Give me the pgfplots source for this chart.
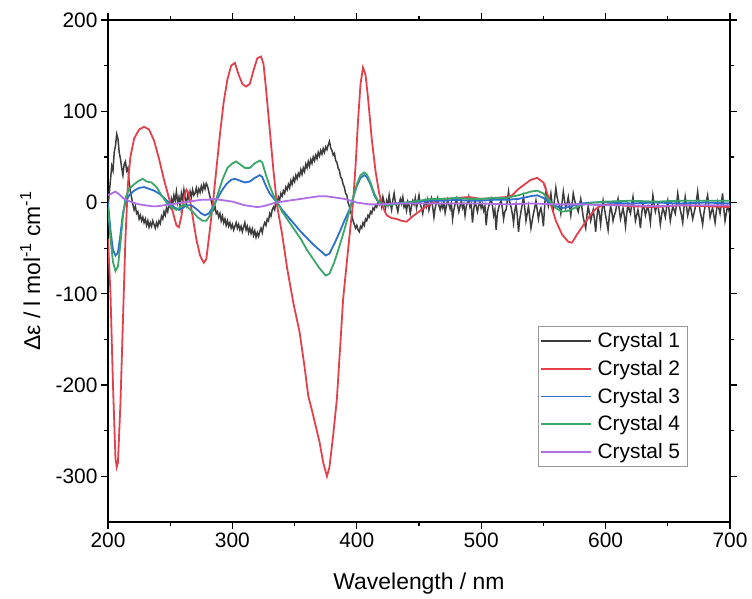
\documentclass[border=0pt]{standalone}
\usepackage{fontspec}
\setmainfont{Liberation Sans}
\usepackage{pgfplots}
\pgfplotsset{compat=1.18}
\definecolor{crysblack}{HTML}{3C3C3C}
\definecolor{crysred}{HTML}{E3404C}
\definecolor{crysblue}{HTML}{2D6FCF}
\definecolor{crysgreen}{HTML}{3AA768}
\definecolor{cryspurple}{HTML}{AE6FE6}
\pgfplotsset{
 s1/.style={color=crysblack, line width=1.5bp},
 s2/.style={color=crysred, line width=1.8bp},
 s3/.style={color=crysblue, line width=1.8bp},
 s4/.style={color=crysgreen, line width=1.8bp},
 s5/.style={color=cryspurple, line width=1.8bp},
}
\begin{document}
\begin{tikzpicture}
\begin{axis}[name=ax, width=622bp, height=502bp, scale only axis,
 xmin=200, xmax=700, ymin=-350, ymax=200,
 xtick={200,300,...,700}, ytick={-300,-200,...,200},
 minor x tick num=1, minor y tick num=1,
 tick align=outside, major tick length=7bp, minor tick length=4bp,
 axis line style={line width=1.2bp},
 every tick/.style={line width=1.2bp, black},
 ticklabel style={font=\fontsize{21}{25}\selectfont},
 /pgf/number format/assume math mode=true, /pgf/number format/1000 sep={},
 xlabel={Wavelength / nm},
 ylabel={Δε / l mol\textsuperscript{-1} cm\textsuperscript{-1}},
 label style={font=\fontsize{23}{27}\selectfont},
 xlabel style={at={(axis description cs:0.5,0)}, anchor=base, yshift=-68bp},
 ylabel style={at={(axis description cs:-0.103,0.5)}, anchor=south},
 legend image code/.code={\draw[#1, line width=1.8bp] (0bp,0bp) -- (50bp,0bp);},
 legend cell align=left,
 legend style={at={(0.9325,0.1096)}, anchor=south east, draw=gray!80, line width=0.8bp,
   font=\fontsize{21}{25}\selectfont,
   inner xsep=2bp, inner ysep=1bp, nodes={inner sep=5.5bp}},
]
\addplot[s1] coordinates {
(200,-5)(201,10)(202,25)(203,40)(204,35)(205,55)(206,62)(207,75)(208,70)(209,55)
(210,48)(211,38)(212,30)(213,42)(214,45)(215,35)(216,38)(217,22)(218,12)(219,5)
(220,-2)(221,-8)(222,-4)(223,-12)(224,-10)(225,-18)(226,-14)(227,-20)(228,-16)(229,-22)
(230,-18)(231,-25)(232,-20)(233,-27)(234,-22)(235,-26)(236,-20)(237,-24)(238,-28)(239,-22)
(240,-26)(241,-20)(242,-23)(243,-15)(244,-18)(245,-10)(246,-14)(247,-6)(248,-10)(249,-2)
(250,-5)(251,4)(252,-2)(253,8)(254,2)(255,12)(256,0)(257,6)(258,-4)(259,10)
(260,3)(261,14)(262,5)(263,-2)(264,8)(265,4)(266,12)(267,6)(268,14)(269,8)
(270,10)(271,16)(272,9)(273,15)(274,11)(275,18)(276,13)(277,20)(278,15)(279,21)
(280,18)(281,12)(282,6)(283,2)(284,-4)(285,-8)(286,-4)(287,-12)(288,-10)(289,-16)
(290,-12)(291,-20)(292,-15)(293,-22)(294,-18)(295,-25)(296,-20)(297,-26)(298,-22)(299,-28)
(300,-24)(301,-30)(302,-26)(303,-22)(304,-28)(305,-24)(306,-30)(307,-26)(308,-32)(309,-27)
(310,-22)(311,-30)(312,-26)(313,-33)(314,-28)(315,-34)(316,-29)(317,-36)(318,-31)(319,-38)
(320,-33)(321,-37)(322,-32)(323,-28)(324,-33)(325,-26)(326,-22)(327,-25)(328,-18)(329,-20)
(330,-12)(331,-15)(332,-8)(333,-5)(334,-8)(335,2)(336,-1)(337,6)(338,3)(339,10)
(340,7)(341,13)(342,10)(343,17)(344,14)(345,20)(346,16)(347,24)(348,20)(349,27)
(350,23)(351,30)(352,26)(353,32)(354,29)(355,36)(356,31)(357,38)(358,34)(359,42)
(360,38)(361,45)(362,40)(363,47)(364,43)(365,50)(366,46)(367,52)(368,48)(369,55)
(370,51)(371,57)(372,53)(373,59)(374,55)(375,61)(376,58)(377,63)(378,67)(379,60)
(380,57)(381,52)(382,54)(383,46)(384,44)(385,38)(386,35)(387,28)(388,26)(389,20)
(390,17)(391,10)(392,8)(393,0)(394,-4)(395,-10)(396,-14)(397,-20)(398,-24)(399,-28)
(400,-25)(401,-30)(402,-32)(403,-26)(404,-28)(405,-22)(406,-25)(407,-18)(408,-20)(409,-14)
(410,-16)(411,-10)(412,-12)(413,-6)(414,-8)(415,-3)(416,-5)(417,1)(418,-2)(419,4)
(420,-4)(421,6)(422,0)(423,-6)(424,2)(425,-3)(426,8)(427,-1)(428,-8)(429,3)
(430,10)(431,0)(432,-4)(433,-10)(434,-2)(435,4)(436,-1)(437,6)(438,-5)(439,-2)
(440,-9)(441,1)(442,-3)(443,-12)(444,-4)(445,2)(446,-2)(447,5)(448,-6)(449,1)
(450,8)(451,-2)(452,-6)(453,-12)(454,-3)(455,2)(456,-4)(457,3)(458,-8)(459,-2)
(460,4)(461,-5)(462,-16)(463,-6)(464,0)(465,5)(466,-3)(467,-8)(468,-2)(469,-6)
(470,1)(471,-11)(472,-4)(473,3)(474,-2)(475,-7)(476,-1)(477,-18)(478,-8)(479,-2)
(480,4)(481,-3)(482,-10)(483,-4)(484,2)(485,-6)(486,-2)(487,-14)(488,-4)(489,0)
(490,6)(491,-5)(492,-2)(493,-22)(494,-8)(495,2)(496,-4)(497,-10)(498,-3)(499,1)
(500,-6)(501,-2)(502,-9)(503,-4)(504,-25)(505,-10)(506,-4)(507,0)(508,4)(509,-3)
(510,-14)(511,-8)(512,-30)(513,-12)(514,-6)(515,-1)(516,2)(517,-6)(518,-18)(519,-10)
(520,-8)(521,2)(522,12)(523,0)(524,-5)(525,-12)(526,-22)(527,-9)(528,-2)(529,-14)
(530,-32)(531,-18)(532,-10)(533,-2)(534,6)(535,-6)(536,-20)(537,-12)(538,-4)(539,-16)
(540,-28)(541,-20)(542,-12)(543,-6)(544,2)(545,-8)(546,-18)(547,-10)(548,-6)(549,-14)
(550,-26)(551,-4)(552,14)(553,4)(554,-4)(555,2)(556,10)(557,-2)(558,-8)(559,4)
(560,16)(561,6)(562,0)(563,-4)(564,-12)(565,0)(566,12)(567,2)(568,-6)(569,-1)
(570,6)(571,-4)(572,-14)(573,-2)(574,10)(575,3)(576,-2)(577,-6)(578,-10)(579,-3)
(580,4)(581,-6)(582,-16)(583,-22)(584,-28)(585,-14)(586,-4)(587,-12)(588,-20)(589,-14)
(590,-8)(591,-18)(592,-32)(593,-16)(594,-6)(595,-12)(596,-24)(597,-10)(598,2)(599,-6)
(600,-14)(601,-22)(602,-30)(603,-14)(604,-4)(605,-10)(606,-20)(607,-14)(608,-10)(609,-2)
(610,4)(611,-8)(612,-18)(613,-12)(614,-6)(615,-14)(616,-26)(617,-12)(618,-2)(619,-8)
(620,-12)(621,-2)(622,6)(623,-8)(624,-20)(625,-14)(626,-8)(627,-16)(628,-28)(629,-12)
(630,-2)(631,-6)(632,-14)(633,-8)(634,-4)(635,-12)(636,-22)(637,-6)(638,8)(639,-2)
(640,-10)(641,-4)(642,-2)(643,-12)(644,-24)(645,-14)(646,-6)(647,-10)(648,-16)(649,-6)
(650,2)(651,-8)(652,-20)(653,-12)(654,-4)(655,-8)(656,-12)(657,-2)(658,10)(659,0)
(660,-8)(661,-14)(662,-22)(663,-6)(664,6)(665,-4)(666,-14)(667,-8)(668,-2)(669,-10)
(670,-18)(671,-12)(672,-6)(673,2)(674,12)(675,0)(676,-10)(677,-16)(678,-24)(679,-12)
(680,-4)(681,2)(682,8)(683,-4)(684,-16)(685,-10)(686,-6)(687,-14)(688,-22)(689,-10)
(690,0)(691,-6)(692,-12)(693,-2)(694,10)(695,-6)(696,-20)(697,-12)(698,-4)(699,-8)(700,-14)
};
\addlegendentry{Crystal 1}
\addplot[s2] coordinates {
(200,-40)(202,-100)(204,-200)(206,-280)(207,-290)(208,-285)(210,-220)(212,-130)(214,-40)
(216,20)(218,50)(221,70)(225,80)(229,83)(233,80)(237,68)(241,48)(245,25)(249,5)
(252,-10)(255,-25)(257,-27)(259,-15)(261,5)(263,14)(265,10)(268,-15)(271,-40)(274,-58)
(277,-66)(279,-62)(281,-40)(284,-5)(287,35)(290,75)(293,110)(296,135)(299,150)(302,153)
(305,140)(308,130)(311,127)(314,130)(317,145)(320,158)(323,160)(325,152)(327,125)(330,80)
(333,35)(336,-4)(340,-35)(344,-72)(349,-110)(354,-142)(358,-180)(361,-212)(364,-228)(367,-245)
(370,-262)(373,-285)(376,-300)(378,-290)(381,-255)(384,-215)(387,-150)(389,-106)(392,-65)
(395,-25)(397,0)(399,40)(401,90)(403,130)(405,148)(407,140)(409,115)(412,70)
(415,35)(418,10)(421,-5)(424,-14)(428,-17)(432,-18)(436,-20)(440,-21)(445,-15)(450,-10)
(455,-5)(460,-1)(465,2)(470,4)(480,5)(490,6)(500,4)(510,5)(520,6)(525,8)(530,15)
(535,20)(540,25)(545,27)(550,22)(553,10)(556,-2)(560,-20)(565,-35)(570,-43)(573,-44)
(577,-35)(582,-25)(587,-15)(592,-7)(597,-3)(605,-2)(620,-4)(640,-5)(660,-3)(680,-4)(700,-5)
};
\addlegendentry{Crystal 2}
\addplot[s3] coordinates {
(200,0)(202,-30)(204,-52)(206,-58)(208,-55)(210,-35)(212,-12)(214,0)(217,8)(221,13)
(225,16)(229,17)(233,15)(237,13)(241,10)(245,5)(249,0)(253,-5)(257,-8)(260,-6)
(263,-3)(267,-3)(271,-7)(275,-12)(278,-14)(281,-12)(284,-6)(287,2)(291,12)(295,20)
(299,25)(302,26)(306,24)(310,22)(314,23)(318,27)(322,30)(324,28)(327,18)(330,10)
(334,3)(337,-2)(340,-8)(345,-16)(350,-24)(355,-32)(360,-39)(365,-46)(370,-52)(375,-58)
(378,-56)(382,-45)(386,-33)(390,-20)(394,-8)(397,5)(400,18)(403,27)(406,30)(408,28)
(411,20)(414,8)(417,1)(420,-2)(425,-2)(430,-1)(440,0)(450,1)(460,2)(470,2)
(480,3)(490,2)(500,2)(510,3)(520,3)(530,4)(540,7)(545,8)(550,5)(555,0)
(560,-4)(565,-6)(570,-5)(575,-3)(580,-1)(590,0)(600,0)(620,-1)(640,0)(660,-1)(680,0)(700,-1)
};
\addlegendentry{Crystal 3}
\addplot[s4] coordinates {
(200,-5)(202,-40)(204,-65)(206,-75)(208,-70)(210,-45)(212,-15)(214,5)(217,15)(221,20)
(225,24)(228,26)(231,23)(235,22)(239,17)(243,8)(247,0)(251,-5)(255,-8)(258,-5)
(261,-2)(264,-5)(268,-10)(272,-16)(276,-20)(279,-20)(282,-14)(285,-5)(288,8)(292,25)
(296,38)(300,43)(303,45)(306,42)(310,38)(314,38)(318,43)(322,46)(324,44)(327,30)
(330,18)(334,5)(337,-2)(340,-10)(345,-20)(350,-30)(355,-40)(360,-52)(365,-62)(370,-72)
(375,-80)(378,-78)(382,-65)(386,-48)(390,-30)(394,-10)(397,5)(400,20)(403,30)(406,33)
(408,31)(411,22)(414,10)(417,2)(420,-2)(425,-3)(430,-2)(440,0)(450,2)(460,4)
(470,4)(480,5)(490,4)(500,4)(510,5)(520,5)(530,8)(540,12)(545,13)(550,10)
(555,2)(560,-6)(565,-10)(570,-9)(575,-6)(580,-3)(590,0)(600,1)(620,2)(640,1)(660,2)(680,2)(700,2)
};
\addlegendentry{Crystal 4}
\addplot[s5] coordinates {
(200,8)(203,10)(206,12)(209,9)(212,5)(216,2)(220,0)(225,-2)(230,-3)(235,-4)
(240,-4)(245,-3)(250,-2)(255,-1)(260,0)(265,1)(270,2)(275,3)(280,3)(285,4)
(290,3)(295,2)(300,1)(305,-1)(310,-3)(315,-4)(320,-5)(325,-4)(330,-2)(335,0)
(340,1)(345,2)(350,3)(355,4)(360,5)(365,6)(370,7)(375,7)(380,6)(385,5)
(390,4)(395,2)(400,0)(405,-1)(410,-2)(420,-2)(430,-1)(440,-1)(450,-1)(460,-1)
(470,-1)(480,-1)(500,-1)(520,-2)(540,-1)(560,-2)(580,-2)(600,-3)(620,-3)(640,-4)
(660,-3)(680,-3)(700,-3)
};
\addlegendentry{Crystal 5}
\end{axis}
\path ([xshift=-108bp,yshift=-74bp]ax.south west) rectangle ([xshift=22bp,yshift=20bp]ax.north east);
\end{tikzpicture}
\end{document}
